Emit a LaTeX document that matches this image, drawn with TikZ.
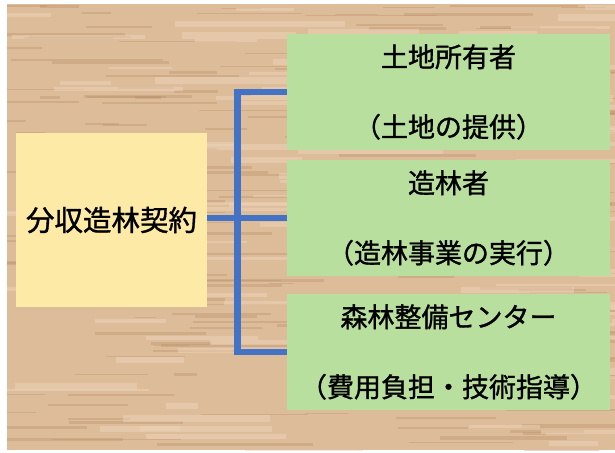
\documentclass[tikz,border=0pt]{standalone}
\usepackage{fontspec}
\newfontfamily\jp[FakeBold=1.2]{Noto Sans CJK JP}
\definecolor{woodbase}{HTML}{DDBC99}
\definecolor{wooddark}{HTML}{B88E68}
\definecolor{woodlight}{HTML}{ECD5BA}
\definecolor{yelfill}{HTML}{FCEAA6}
\definecolor{grnfill}{HTML}{B9DF9F}
\definecolor{linkblue}{HTML}{4472C4}
\tikzset{
  yelbox/.style={fill=yelfill, draw=none, minimum width=191pt, minimum height=174pt, inner sep=0pt, font=\jp\fontsize{28.5}{34}\selectfont},
  grnbox/.style={fill=grnfill, draw=none, minimum width=323pt, minimum height=116pt, inner sep=0pt, align=center, font=\jp\fontsize{27}{70}\selectfont},
  link/.style={draw=linkblue, line width=6.5pt},
}
\begin{document}
\begin{tikzpicture}[x=1pt,y=-1pt]
\useasboundingbox (0,0) rectangle (615,452);
\fill[white] (0,0) rectangle (615,452);
% wood background
\fill[woodbase] (7,4) rectangle (615,450);
\begin{scope}
\clip (7,4) rectangle (615,450);
\pgfmathsetseed{11}
\foreach \i in {1,...,200}{
  \pgfmathsetmacro\gx{7+640*rnd-30}
  \pgfmathsetmacro\gy{4+446*rnd}
  \pgfmathsetmacro\gl{20+140*rnd}
  \pgfmathsetmacro\gw{1+2.5*rnd}
  \fill[wooddark, opacity=0.35] (\gx,\gy) rectangle ++(\gl,\gw);
}
\foreach \i in {1,...,110}{
  \pgfmathsetmacro\gx{7+640*rnd-30}
  \pgfmathsetmacro\gy{4+446*rnd}
  \pgfmathsetmacro\gl{30+160*rnd}
  \pgfmathsetmacro\gw{2+5*rnd}
  \fill[woodlight, opacity=0.5] (\gx,\gy) rectangle ++(\gl,\gw);
}
\end{scope}
% boxes
\node[yelbox] (contract) at (111.5,220) {分収造林契約};
\node[grnbox] (owner) at (448.5,92) {土地所有者\\（土地の提供）};
\node[grnbox] (planter) at (448.5,218) {造林者\\（造林事業の実行）};
\node[grnbox] (center) at (448.5,352) {森林整備センター\\（費用負担・技術指導）};
% connectors
\coordinate (jt) at (237.5,92.5);
\coordinate (jb) at (237.5,352.5);
\draw[link] (jt) -- (jb);
\draw[link] (jt |- owner.west) ++(-3.25,0) -- (owner.west);
\draw[link] (jb |- center.west) ++(-3.25,0) -- (center.west);
\draw[link] (contract.east |- planter.west) -- (planter.west);
\end{tikzpicture}
\end{document}
